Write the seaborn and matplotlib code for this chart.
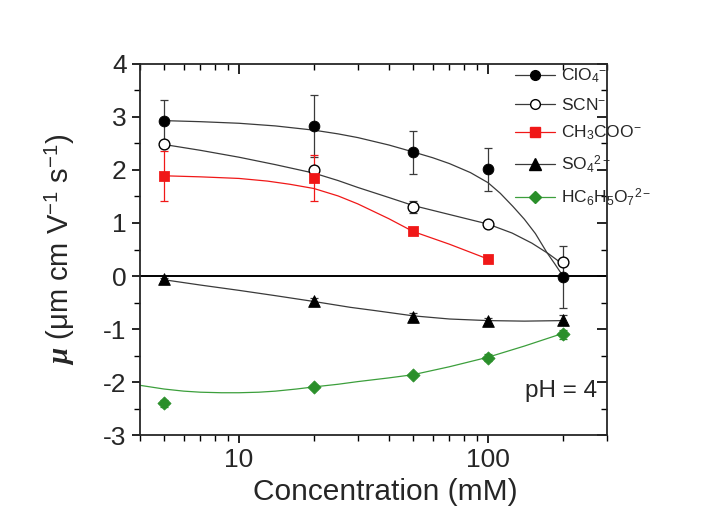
import numpy as np
import pandas as pd
import matplotlib
matplotlib.use("Agg")
import matplotlib.pyplot as plt
from matplotlib.lines import Line2D, TICKDOWN, TICKLEFT
from matplotlib.ticker import LogLocator, NullFormatter, MultipleLocator
import seaborn as sns

# measured points (concentration in mM, mobility)
conc = [5, 20, 50, 100, 200]
clo4 = [2.93, 2.83, 2.33, 2.01, -0.02]
clo4_err = [0.38, 0.59, 0.40, 0.40, 0.59]
scn = [2.48, 2.00, 1.30, 0.99, 0.27]
scn_err = [0.05, 0.05, 0.12, 0.05, 0.05]
conc_ac = [5, 20, 50, 100]
ch3coo = [1.89, 1.85, 0.84, 0.32]
ch3coo_err = [0.47, 0.44, 0.05, 0.03]
so4 = [-0.06, -0.47, -0.77, -0.85, -0.82]
so4_err = [0.03, 0.05, 0.08, 0.06, 0.08]
citr = [-2.40, -2.09, -1.86, -1.54, -1.10]
citr_err = [0.06, 0.04, 0.04, 0.07, 0.08]

# fitted curves
fit_clo4_x = [5, 7, 10, 14, 20, 25, 30, 40, 50, 60, 70, 85, 100, 112, 126, 140, 155, 172, 186, 200]
fit_clo4_y = [2.93, 2.91, 2.88, 2.83, 2.75, 2.68, 2.61, 2.47, 2.34, 2.23, 2.12, 1.95, 1.76,
              1.56, 1.31, 1.07, 0.80, 0.45, 0.22, 0.0]
fit_scn_x = [5, 7, 10, 14, 20, 25, 30, 40, 50, 70, 100, 125, 150, 175, 200]
fit_scn_y = [2.48, 2.37, 2.24, 2.10, 1.94, 1.80, 1.67, 1.48, 1.33, 1.16, 0.98, 0.81, 0.62, 0.42, 0.22]
fit_ac_x = [5, 7, 10, 13, 16, 20, 25, 30, 35, 40, 50, 70, 100]
fit_ac_y = [1.89, 1.87, 1.84, 1.79, 1.73, 1.65, 1.51, 1.36, 1.21, 1.08, 0.84, 0.60, 0.32]
fit_so4_x = [5, 7, 10, 14, 20, 28, 35, 50, 70, 100, 140, 200]
fit_so4_y = [-0.07, -0.17, -0.27, -0.37, -0.48, -0.59, -0.65, -0.75, -0.81, -0.84, -0.85, -0.84]
fit_citr_x = [4, 5, 6, 7, 8.5, 10, 12, 14, 17, 20, 25, 30, 40, 50, 70, 100, 140, 200]
fit_citr_y = [-2.06, -2.13, -2.17, -2.19, -2.20, -2.20, -2.19, -2.17, -2.13, -2.09, -2.04,
              -1.99, -1.92, -1.86, -1.71, -1.53, -1.32, -1.08]

sns.set_theme(style="ticks")
plt.rcParams['font.family'] = ['Liberation Sans', 'DejaVu Sans']
plt.rcParams['mathtext.fontset'] = 'custom'
plt.rcParams['mathtext.rm'] = 'Liberation Sans'
plt.rcParams['mathtext.it'] = 'Liberation Serif:italic:bold'
plt.rcParams['axes.unicode_minus'] = False

fig = plt.figure(figsize=(7.25, 5.15), dpi=100, facecolor="white")
ax = fig.add_axes([0.193, 0.155, 0.644, 0.721])

gray = "#3a3a3a"
red = "#f01818"
green = "#2a8f2a"
lgreen = "#3c9f3c"

# fit lines
sns.lineplot(x=fit_clo4_x, y=fit_clo4_y, ax=ax, color=gray, lw=0.9, sort=False)
sns.lineplot(x=fit_scn_x, y=fit_scn_y, ax=ax, color=gray, lw=0.9, sort=False)
sns.lineplot(x=fit_ac_x, y=fit_ac_y, ax=ax, color=red, lw=0.9, sort=False)
sns.lineplot(x=fit_so4_x, y=fit_so4_y, ax=ax, color=gray, lw=0.9, sort=False)
sns.lineplot(x=fit_citr_x, y=fit_citr_y, ax=ax, color=lgreen, lw=0.9, sort=False)

ax.axhline(0, color="black", lw=1.4, zorder=1)

# error bars
ekw = dict(fmt="none", elinewidth=0.9, capsize=3.2, capthick=0.9)
ax.errorbar(conc, clo4, yerr=clo4_err, ecolor=gray, **ekw)
ax.errorbar(conc, scn, yerr=scn_err, ecolor=gray, **ekw)
ax.errorbar(conc_ac, ch3coo, yerr=ch3coo_err, ecolor=red, **ekw)
ax.errorbar(conc, so4, yerr=so4_err, ecolor=gray, **ekw)
ax.errorbar(conc, citr, yerr=citr_err, ecolor=green, **ekw)

# markers
sns.scatterplot(x=conc, y=clo4, ax=ax, marker="o", s=60, color="black", edgecolor="black", zorder=5)
sns.scatterplot(x=conc, y=scn, ax=ax, marker="o", s=60, facecolor="white", edgecolor="black", linewidth=1, zorder=5)
sns.scatterplot(x=conc_ac, y=ch3coo, ax=ax, marker="s", s=50, color=red, edgecolor=red, zorder=5)
sns.scatterplot(x=conc, y=so4, ax=ax, marker="^", s=70, color="black", edgecolor="black", zorder=5)
sns.scatterplot(x=conc, y=citr, ax=ax, marker="D", s=45, color=green, edgecolor=green, zorder=5)

ax.set_xscale("log")
ax.set_xlim(4, 300)
ax.set_ylim(-3, 4)
ax.yaxis.set_major_locator(MultipleLocator(1))
ax.yaxis.set_minor_locator(MultipleLocator(0.5))
ax.xaxis.set_minor_locator(LogLocator(base=10, subs=np.arange(2, 10)))
ax.xaxis.set_minor_formatter(NullFormatter())
ax.set_xticks([10, 100])
ax.set_xticklabels(["10", "100"])

ax.tick_params(which="major", direction="out", length=6, width=1.2, labelsize=19, color="black",
               top=True, right=True)
ax.tick_params(which="minor", direction="out", length=4, width=1.0, color="black",
               top=True, right=True)
for sp in ax.spines.values():
    sp.set_linewidth(1.3)
    sp.set_visible(True)

ax.set_xlabel("Concentration (mM)", fontsize=21.5, labelpad=7)
ax.xaxis.set_label_coords(0.525, -0.115)
ax.set_ylabel(r"$\mu$ (μm cm V$^{-1}$ s$^{-1}$)", fontsize=21, labelpad=19)

ax.text(0.98, 0.12, "pH = 4", transform=ax.transAxes, ha="right", va="center", fontsize=17.5)

handles = [
    Line2D([], [], color=gray, lw=0.9, marker="o", ms=7, mfc="black", mec="black"),
    Line2D([], [], color=gray, lw=0.9, marker="o", ms=7, mfc="white", mec="black"),
    Line2D([], [], color=red, lw=0.9, marker="s", ms=6.5, mfc=red, mec=red),
    Line2D([], [], color=gray, lw=0.9, marker="^", ms=8, mfc="black", mec="black"),
    Line2D([], [], color=lgreen, lw=0.9, marker="D", ms=6, mfc=green, mec=green),
]
labels = [r"ClO$_4{}^{-}$", r"SCN$^{-}$", r"CH$_3$COO$^{-}$", r"SO$_4{}^{2-}$",
          r"HC$_6$H$_5$O$_7{}^{2-}$"]
fig.legend(handles, labels, loc="upper left", bbox_to_anchor=(508 / 725, 1 - 60 / 515), frameon=False,
           fontsize=12.5, handlelength=2.3, handletextpad=0.35, labelspacing=0.65, borderaxespad=0.0)

# top and right ticks point inward, bottom and left point outward
fig.canvas.draw()
for t in ax.xaxis.get_major_ticks():
    t.tick2line.set_marker(TICKDOWN)
    t.tick2line.set_markersize(7)
for t in ax.xaxis.get_minor_ticks():
    t.tick2line.set_marker(TICKDOWN)
for t in ax.yaxis.get_major_ticks():
    t.tick2line.set_marker(TICKLEFT)
    t.tick2line.set_markersize(7)
for t in ax.yaxis.get_minor_ticks():
    t.tick2line.set_marker(TICKLEFT)

fig.savefig("out.png", dpi=100)
